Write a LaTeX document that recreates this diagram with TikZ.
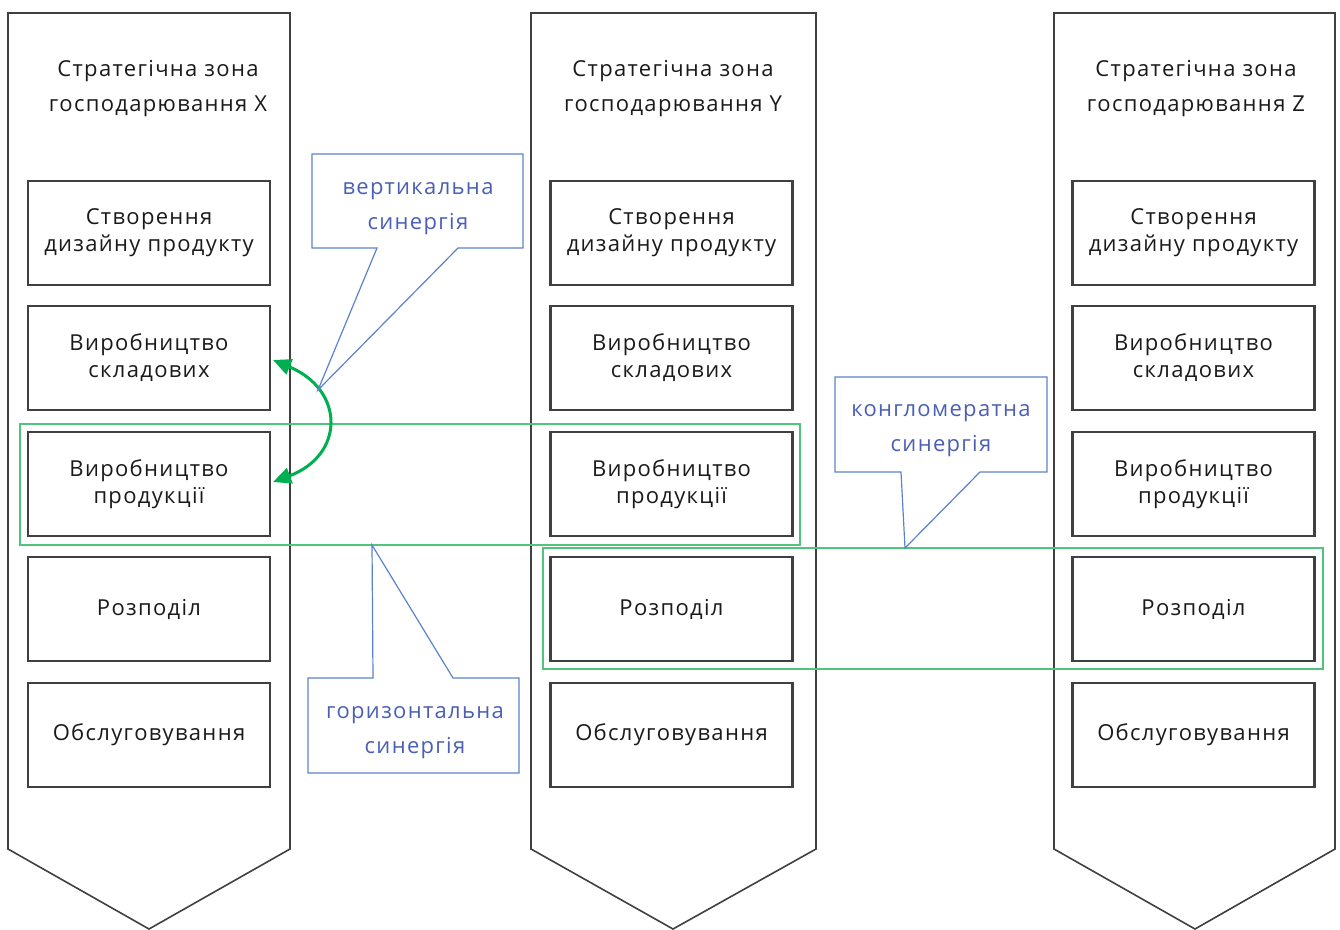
\documentclass[tikz,border=0pt]{standalone}
\usepackage{fontspec}
\setmainfont{Open Sans}[LetterSpace=6]
\usetikzlibrary{arrows.meta}
\definecolor{edge}{HTML}{404040}
\definecolor{grn}{HTML}{00B050}
\definecolor{grnline}{HTML}{50C47C}
\definecolor{callblue}{HTML}{5B82CC}
\definecolor{calltext}{HTML}{4A5FB5}
\definecolor{txt}{HTML}{1A1A1A}
\tikzset{
 zone/.style={draw=edge, line width=1.6pt, line join=miter},
 stage/.style={draw=edge, line width=2.4pt, minimum width=242pt, minimum height=104pt, inner sep=0pt, align=center, text=txt, font=\fontsize{22}{27}\selectfont},
 ztitle/.style={align=center, text=txt, font=\fontsize{22}{35}\selectfont},
 grp/.style={draw=grnline, line width=1.8pt},
 callbox/.style={draw=callblue, line width=1.2pt, line join=miter},
 calltxt/.style={align=center, text=calltext, font=\fontsize{22}{35}\selectfont},
 vsyn/.style={draw=grn, line width=3pt, {Triangle[length=18pt,width=16pt]}-{Triangle[length=18pt,width=16pt]}}
}
\begin{document}
\begin{tikzpicture}[x=1pt,y=-1pt]
\useasboundingbox (0,0) rectangle (1340,929);
% zones
\draw[zone] (8,13) -- (290,13) -- (290,849) -- (149,929) -- (8,849) -- cycle;
\draw[zone] (531,13) -- (816,13) -- (816,849) -- (673,929) -- (531,849) -- cycle;
\draw[zone] (1054,13) -- (1335,13) -- (1335,849) -- (1195,929) -- (1054,849) -- cycle;
% titles
\node[ztitle] (tX) at (158,89) {Стратегічна зона\\господарювання X};
\node[ztitle] (tY) at (673,89) {Стратегічна зона\\господарювання Y};
\node[ztitle] (tZ) at (1196,89) {Стратегічна зона\\господарювання Z};
% stages
\foreach \c/\x in {X/149, Y/671.5, Z/1193.5}{
 \node[stage] (d\c) at (\x,233) {\raisebox{-5pt}{\parbox{242pt}{\centering Створення\\дизайну продукту}}};
 \node[stage] (s\c) at (\x,358) {\raisebox{-5pt}{\parbox{242pt}{\centering Виробництво\\складових}}};
 \node[stage] (p\c) at (\x,484) {\raisebox{-5pt}{\parbox{242pt}{\centering Виробництво\\продукції}}};
 \node[stage] (r\c) at (\x,609) {\raisebox{-4pt}{Розподіл}};
 \node[stage] (o\c) at (\x,735) {\raisebox{-4pt}{Обслуговування}};
}
% green groups
\draw[grp] (20,424) rectangle (800,545);
\draw[grp] (543,548) rectangle (1323,669);
% vertical synergy arrow
\coordinate (a1) at (273,360);
\coordinate (a2) at (273,482);
\draw[vsyn] (a1) .. controls (345,390) and (345,455) .. (a2);
% callouts
\coordinate (vt) at (318,390);
\draw[callbox] (312,154) -- (523,154) -- (523,248) -- (458,248) -- (vt) -- (377,248) -- (312,248) -- cycle;
\node[calltxt] (cv) at (418,208.5) {вертикальна\\синергія};
\coordinate (ht) at (372,545);
\draw[callbox] (308,678) -- (373,678) -- (ht) -- (453,678) -- (519,678) -- (519,773) -- (308,773) -- cycle;
\node[calltxt] (ch) at (415,733) {горизонтальна\\синергія};
\coordinate (kt) at (905,548);
\draw[callbox] (835,377) -- (1047,377) -- (1047,472) -- (980,472) -- (kt) -- (901,472) -- (835,472) -- cycle;
\node[calltxt] (ck) at (941,430.5) {конгломератна\\синергія};
\end{tikzpicture}
\end{document}
